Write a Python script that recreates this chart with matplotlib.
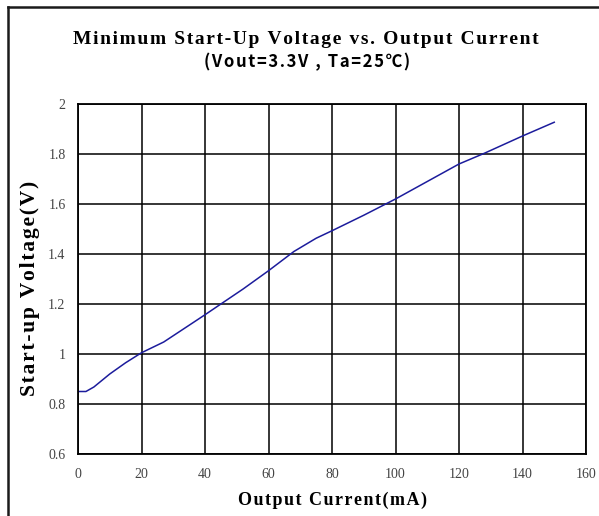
import numpy as np
import matplotlib
matplotlib.use('Agg')
import matplotlib.pyplot as plt
from matplotlib.lines import Line2D

## data
current_ma = [0, 2.5, 5, 10, 15, 20, 27, 35, 40, 45, 52, 60, 68, 75, 80,
              90, 100, 110, 120, 128, 140, 150]
startup_v = [0.85, 0.85, 0.868, 0.92, 0.965, 1.005, 1.048, 1.115, 1.157, 1.2,
             1.26, 1.333, 1.41, 1.463, 1.493, 1.555, 1.62, 1.69, 1.76, 1.803,
             1.872, 1.927]

x_ticks = [0, 20, 40, 60, 80, 100, 120, 140, 160]
y_ticks = [0.6, 0.8, 1.0, 1.2, 1.4, 1.6, 1.8, 2.0]
y_tick_labels = ['0.6', '0.8', '1', '1.2', '1.4', '1.6', '1.8', '2']

serif = ['Liberation Serif', 'DejaVu Serif']


def spaced(s, sep='\u200a'):
    # widen letter spacing like the original chart text
    return sep.join(s)


fig = plt.figure(figsize=(5.99, 5.16), dpi=100)
ax = fig.add_axes([78 / 599, 1 - 454 / 516, (586 - 78) / 599, (454 - 104) / 516])

ax.plot(current_ma, startup_v, color='#1c1c9c', lw=1.1)

ax.set_xlim(0, 160)
ax.set_ylim(0.6, 2.0)
ax.set_xticks(x_ticks)
ax.set_yticks(y_ticks)
ax.set_xticklabels([str(t) for t in x_ticks], family=serif, fontsize=10, color='#444444')
ax.set_yticklabels(y_tick_labels, family=serif, fontsize=10, color='#444444')
ax.tick_params(length=0)
ax.tick_params(axis='x', pad=10)
ax.tick_params(axis='y', pad=9)
ax.grid(True, color='black', lw=1.1)
ax.set_axisbelow(True)
for s in ax.spines.values():
    s.set_color('black')
    s.set_linewidth(1.3)

ax.set_xlabel(spaced('Output Current(mA)'), family=serif, fontsize=13, fontweight='bold')
ax.xaxis.set_label_coords(0.5, -38 / 350)
ax.set_ylabel(spaced('Start-up Voltage(V)'), family=serif, fontsize=15.5, fontweight='bold')
ax.yaxis.set_label_coords(-38 / 508, (454 - 288) / 350)

fig.text(306 / 599, 1 - 40 / 516, spaced('Minimum Start-Up Voltage vs. Output Current'),
         family=serif, fontsize=14, fontweight='bold', ha='center', va='center')
fig.text(307 / 599, 1 - 62 / 516, spaced('(Vout=3.3V , Ta=25℃)'),
         family=['Noto Sans CJK SC', 'DejaVu Sans'], fontsize=12, fontweight='bold',
         ha='center', va='center')

## outer frame (top and left edges only show in the reference)
fig.add_artist(Line2D([8 / 599, 1.0], [1 - 7 / 516, 1 - 7 / 516], color='#1a1a1a', lw=1.8,
                      transform=fig.transFigure))
fig.add_artist(Line2D([8 / 599, 8 / 599], [0.0, 1 - 7 / 516], color='#1a1a1a', lw=1.8,
                      transform=fig.transFigure))

fig.savefig('out.png', dpi=100)
